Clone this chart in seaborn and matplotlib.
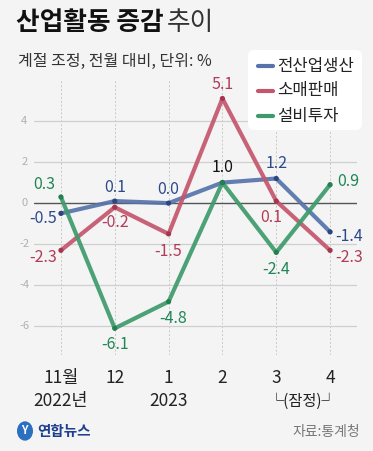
import numpy as np
import pandas as pd
import seaborn as sns
import matplotlib.pyplot as plt
from matplotlib.patches import FancyBboxPatch, Circle
from matplotlib.lines import Line2D

# ─── DATA ─────────────────────────────────────────────
months   = ["11월", "12", "1", "2", "3", "4"]
years    = ["2022년", "", "2023", "", "", ""]
series   = ["전산업생산", "소매판매", "설비투자"]
industry = [-0.5, 0.1, 0.0, 1.0, 1.2, -1.4]
retail   = [-2.3, -0.2, -1.5, 5.1, 0.1, -2.3]
invest   = [0.3, -6.1, -4.8, 1.0, -2.4, 0.9]
yticks   = [4, 2, 0, -2, -4, -6]

# ─── STYLE ────────────────────────────────────────────
BG = "#f4f4f4"
line_cols = {"전산업생산": "#5673ab", "소매판매": "#c4566c", "설비투자": "#3f9a6b"}
dot_cols  = {"전산업생산": "#2d4580", "소매판매": "#a83550", "설비투자": "#23804f"}
lab_cols  = {"전산업생산": "#2b4a8c", "소매판매": "#b23c57", "설비투자": "#1f8656"}

sns.set_style("white")
plt.rcParams['font.family'] = ['Noto Sans CJK KR', 'DejaVu Sans']

df = pd.DataFrame({
    "pos": list(range(6)) * 3,
    "value": industry + retail + invest,
    "series": np.repeat(series, 6),
})

fig = plt.figure(figsize=(3.73, 4.51), dpi=100, facecolor=BG)
W, H = 373, 451
# axes: x 34..357 px, y 80..355 px
ax = fig.add_axes([34 / W, 1 - 355 / H, (357 - 34) / W, (355 - 80) / H])
ax.set_facecolor(BG)

for y in yticks:
    ax.axhline(y, color="#555555" if y == 0 else "#cfcfcf",
               lw=1.0 if y == 0 else 0.9, zorder=1)
for i in range(6):
    ax.axvline(i, color="#c8c8c8", lw=0.7, ls=(0, (2, 2)), zorder=0.5)

sns.lineplot(data=df, x="pos", y="value", hue="series", palette=line_cols,
             linewidth=3.0, legend=False, ax=ax, zorder=3, alpha=0.92)
sns.scatterplot(data=df, x="pos", y="value", hue="series", palette=dot_cols,
                s=14, linewidth=0, legend=False, ax=ax, zorder=4)

ax.set_xlim(-0.5, 5.5)
ax.set_ylim(-7.4, 6.0)
ax.set_xticks([])
ax.set_yticks([])
ax.set_xlabel("")
ax.set_ylabel("")
for s in ax.spines.values():
    s.set_visible(False)

for y in yticks:
    ax.text(-0.68, y, str(y), ha="center", va="center", fontsize=8,
            color="#b0b0b0")

# ─── DATA LABELS (offsets in points) ──────────────────
labels = [
    ("전산업생산", 0, -13, -4), ("전산업생산", 1, 0, 10), ("전산업생산", 2, 0, 10),
    ("전산업생산", 4, 0, 11), ("전산업생산", 5, 14, -3),
    ("소매판매", 0, -13, -5), ("소매판매", 1, 0, -11), ("소매판매", 2, 0, -13),
    ("소매판매", 3, 0, 10), ("소매판매", 4, -4, -12), ("소매판매", 5, 14, -5),
    ("설비투자", 0, -12, 9), ("설비투자", 1, 0, -12), ("설비투자", 2, 3, -12),
    ("설비투자", 4, 0, -12), ("설비투자", 5, 13, 2),
]
vals = {"전산업생산": industry, "소매판매": retail, "설비투자": invest}
for name, i, dx, dy in labels:
    v = vals[name][i]
    ax.annotate(f"{v:.1f}", (i, v), xytext=(dx, dy), textcoords="offset points",
                ha="center", va="center", fontsize=11.5, color=lab_cols[name],
                zorder=6)
ax.annotate("1.0", (3, 1.0), xytext=(0, 11), textcoords="offset points",
            ha="center", va="center", fontsize=11.5, color="#111111", zorder=6)

# ─── LEGEND ───────────────────────────────────────────
box = FancyBboxPatch((248 / W, 1 - 130 / H), 114 / W, 80 / H,
                     boxstyle="round,pad=0,rounding_size=0.015",
                     transform=fig.transFigure, facecolor="white",
                     edgecolor="none", zorder=10)
fig.patches.append(box)
for k, name in enumerate(series):
    yy = 1 - (66 + k * 25) / H
    fig.add_artist(Line2D([258 / W, 273 / W], [yy, yy], color=line_cols[name],
                          lw=3, solid_capstyle="round", zorder=11))
    fig.text(277 / W, yy, name, fontsize=12, va="center", ha="left",
             color="#222222", zorder=11)

# ─── TITLES ───────────────────────────────────────────
fig.text(16 / W, 1 - 23 / H, "산업활동 증감", fontsize=18.5, fontweight="bold",
         va="center", ha="left", color="#111111")
fig.text(167 / W, 1 - 23 / H, "추이", fontsize=18.5, va="center", ha="left",
         color="#333333")
fig.text(18 / W, 1 - 61 / H, "계절 조정, 전월 대비, 단위: %", fontsize=11.5,
         va="center", ha="left", color="#333333")

# ─── X LABELS ─────────────────────────────────────────
for i, (m, yr) in enumerate(zip(months, years)):
    ax.annotate(m, (i, 0), xycoords=("data", "figure fraction"),
                xytext=(i, 1 - 378 / H), textcoords=("data", "figure fraction"),
                ha="center", va="center", fontsize=12.5, color="#222222")
    if yr:
        ax.annotate(yr, (i, 0), xycoords=("data", "figure fraction"),
                    xytext=(i, 1 - 401 / H), textcoords=("data", "figure fraction"),
                    ha="center", va="center", fontsize=12.5, color="#222222")
ax.annotate("└(잠정)┘", (4.5, 0), xycoords=("data", "figure fraction"),
            xytext=(4.5, 1 - 401 / H), textcoords=("data", "figure fraction"),
            ha="center", va="center", fontsize=11, color="#222222",
            annotation_clip=False)

# ─── FOOTER ───────────────────────────────────────────
fig.add_artist(Circle((25 / W, 1 - 431 / H), 8 / W, transform=fig.transFigure,
                      facecolor="#2a6fc0", edgecolor="none"))
fig.text(24 / W, 1 - 431 / H, "Y", fontsize=8, fontweight="bold", color="white",
         ha="center", va="center", style="italic")
fig.text(37 / W, 1 - 431 / H, "연합뉴스", fontsize=10.5, fontweight="bold",
         color="#1f3f8f", ha="left", va="center")
fig.text(360 / W, 1 - 432 / H, "자료:통계청", fontsize=10, color="#777777",
         ha="right", va="center")

fig.savefig("out.png", dpi=100, facecolor=BG)
